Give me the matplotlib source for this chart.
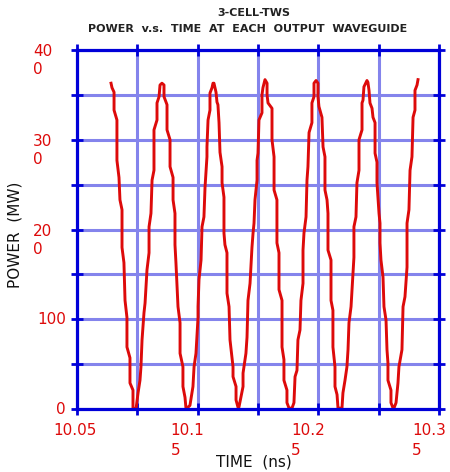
import matplotlib
matplotlib.use('Agg')
import matplotlib.pyplot as plt
import matplotlib.transforms as mtransforms

# traced power curve (time in ns, power in MW)
time_ns = [10.0782, 10.0790, 10.0807, 10.0807, 10.0831, 10.0831, 10.0848, 10.0856, 10.0873, 10.0873,
           10.0889, 10.0898, 10.0914, 10.0914, 10.0939, 10.0939, 10.0964, 10.0964, 10.0989, 10.1006,
           10.1022, 10.1030, 10.1039, 10.1055, 10.1064, 10.1080, 10.1097, 10.1097, 10.1113, 10.1122,
           10.1138, 10.1138, 10.1163, 10.1163, 10.1180, 10.1188, 10.1204, 10.1221, 10.1221, 10.1246,
           10.1246, 10.1271, 10.1271, 10.1296, 10.1296, 10.1312, 10.1312, 10.1320, 10.1337, 10.1354,
           10.1354, 10.1378, 10.1378, 10.1395, 10.1403, 10.1412, 10.1436, 10.1453, 10.1461, 10.1470,
           10.1486, 10.1503, 10.1503, 10.1511, 10.1528, 10.1536, 10.1552, 10.1561, 10.1577, 10.1577,
           10.1586, 10.1602, 10.1602, 10.1619, 10.1627, 10.1635, 10.1652, 10.1660, 10.1668, 10.1677,
           10.1685, 10.1702, 10.1702, 10.1718, 10.1718, 10.1726, 10.1743, 10.1743, 10.1760, 10.1768,
           10.1793, 10.1793, 10.1818, 10.1818, 10.1834, 10.1842, 10.1851, 10.1876, 10.1876, 10.1900,
           10.1909, 10.1917, 10.1934, 10.1950, 10.1959, 10.1967, 10.1975, 10.1992, 10.1992, 10.2000,
           10.2008, 10.2033, 10.2033, 10.2041, 10.2058, 10.2075, 10.2075, 10.2083, 10.2116, 10.2116,
           10.2133, 10.2133, 10.2157, 10.2157, 10.2174, 10.2174, 10.2199, 10.2199, 10.2215, 10.2215,
           10.2240, 10.2240, 10.2257, 10.2282, 10.2298, 10.2307, 10.2323, 10.2331, 10.2348, 10.2356,
           10.2373, 10.2373, 10.2381, 10.2398, 10.2406, 10.2414, 10.2423, 10.2447, 10.2447, 10.2464,
           10.2464, 10.2481, 10.2497, 10.2497, 10.2505, 10.2530, 10.2539, 10.2555, 10.2555, 10.2572,
           10.2580, 10.2580, 10.2605, 10.2605, 10.2621, 10.2621, 10.2638, 10.2638, 10.2655, 10.2663,
           10.2696, 10.2704, 10.2721, 10.2737, 10.2746, 10.2754, 10.2771, 10.2787, 10.2795, 10.2795,
           10.2812, 10.2820, 10.2837, 10.2837, 10.2862, 10.2862, 10.2870, 10.2878, 10.2903, 10.2911,
           10.2920, 10.2928, 10.2945, 10.2953, 10.2970, 10.2970, 10.2986, 10.2986, 10.2994, 10.3003,
           10.3011, 10.3011, 10.3019, 10.3036, 10.3044, 10.3061, 10.3069, 10.3077, 10.3077, 10.3102,
           10.3102, 10.3119, 10.3127, 10.3144, 10.3152, 10.3160, 10.3168, 10.3193, 10.3202, 10.3218,
           10.3235, 10.3235, 10.3251, 10.3260, 10.3276, 10.3285, 10.3301, 10.3301, 10.3318, 10.3326]
power_mw = [363, 358, 353, 333, 322, 277, 258, 233, 222, 180,
            163, 121, 102, 69, 57, 29, 21, 1, 0, 18,
            32, 47, 77, 107, 118, 155, 174, 203, 218, 255,
            266, 311, 322, 341, 348, 361, 363, 361, 348, 339,
            311, 300, 270, 258, 233, 218, 183, 163, 114, 96,
            62, 47, 25, 13, 1, 1, 4, 18, 25, 47,
            62, 102, 114, 144, 166, 203, 214, 247, 281, 292,
            322, 333, 352, 358, 363, 363, 353, 342, 339, 319,
            286, 270, 252, 236, 196, 183, 174, 129, 114, 77,
            47, 36, 25, 10, 2, 2, 8, 25, 40, 62,
            80, 121, 140, 180, 196, 207, 233, 255, 277, 285,
            322, 330, 350, 358, 367, 363, 350, 341, 335, 300,
            281, 244, 233, 185, 174, 133, 121, 69, 55, 32,
            21, 7, 1, 1, 7, 36, 43, 77, 88, 121,
            140, 177, 196, 214, 255, 270, 308, 319, 341, 348,
            363, 366, 363, 348, 337, 325, 292, 281, 244, 233,
            218, 177, 166, 121, 110, 69, 47, 25, 16, 1,
            1, 18, 32, 47, 66, 96, 114, 152, 169, 203,
            214, 252, 266, 300, 311, 341, 344, 359, 366, 364,
            355, 341, 335, 325, 319, 285, 275, 252, 236, 218,
            207, 185, 166, 147, 114, 99, 66, 51, 32, 21,
            7, 1, 1, 7, 18, 29, 47, 66, 114, 125,
            158, 207, 222, 266, 281, 325, 333, 355, 361, 367]

xticks = [10.05, 10.10, 10.15, 10.20, 10.25, 10.30, 10.35]
xlabels = ['10.05', '', '10.1\n5', '', '10.2\n5', '', '10.3\n5']
yticks = [0, 50, 100, 150, 200, 250, 300, 350, 400]
ylabels = ['0', '', '100', '', '20\n0', '', '30\n0', '', '40\n0']

spine_blue = '#0000d8'
grid_blue = '#8484ec'
red = '#dd0a0a'

fig = plt.figure(figsize=(4.5, 4.72), dpi=100)
ax = fig.add_axes([77/450, 63/472, 362/450, 359/472])

ax.plot(time_ns, power_mw, color=red, lw=2.1, zorder=3)

ax.set_xlim(10.05, 10.35)
ax.set_ylim(0, 400)
ax.set_xticks(xticks)
ax.set_yticks(yticks)
ax.grid(True, color=grid_blue, lw=2.2, zorder=1)
ax.set_axisbelow(True)
for s in ax.spines.values():
    s.set_color(spine_blue)
    s.set_linewidth(2.3)
    s.set_zorder(4)
ax.tick_params(direction='inout', length=8, width=2, color=spine_blue,
               top=True, right=True, labelbottom=False, labelleft=False)

# tick labels drawn by hand (wrapped, left aligned like the original)
for v, t in zip(xticks, xlabels):
    if not t:
        continue
    if '\n' in t:
        tr = ax.get_xaxis_transform() + mtransforms.ScaledTranslation(-27/100, -14/100, fig.dpi_scale_trans)
        ax.text(v, 0, t, transform=tr, ha='left', va='top', color=red, fontsize=11,
                linespacing=1.4, multialignment='left')
    else:
        tr = ax.get_xaxis_transform() + mtransforms.ScaledTranslation(-2/100, -14/100, fig.dpi_scale_trans)
        ax.text(v, 0, t, transform=tr, ha='center', va='top', color=red, fontsize=11)

for v, t in zip(yticks, ylabels):
    if not t:
        continue
    if '\n' in t:
        tr = ax.get_yaxis_transform() + mtransforms.ScaledTranslation(-44/100, 6/100, fig.dpi_scale_trans)
        ax.text(0, v, t, transform=tr, ha='left', va='top', color=red, fontsize=11,
                linespacing=1.25, multialignment='left')
    else:
        tr = ax.get_yaxis_transform() + mtransforms.ScaledTranslation(-11/100, 0, fig.dpi_scale_trans)
        ax.text(0, v, t, transform=tr, ha='right', va='center', color=red, fontsize=11)

fig.text(254/450, 1 - 13/472, '3-CELL-TWS', ha='center', va='center',
         fontsize=8, fontweight='bold', color='#222222')
fig.text(248/450, 1 - 29/472, 'POWER  v.s.  TIME  AT  EACH  OUTPUT  WAVEGUIDE', ha='center', va='center',
         fontsize=8, fontweight='bold', color='#222222')
fig.text(254/450, 1 - 462/472, 'TIME  (ns)', ha='center', va='center', fontsize=11, color='#111111')
fig.text(15/450, 1 - 235/472, 'POWER  (MW)', ha='center', va='center', rotation=90,
         fontsize=11, color='#111111')

plt.savefig('out.png', dpi=100)
